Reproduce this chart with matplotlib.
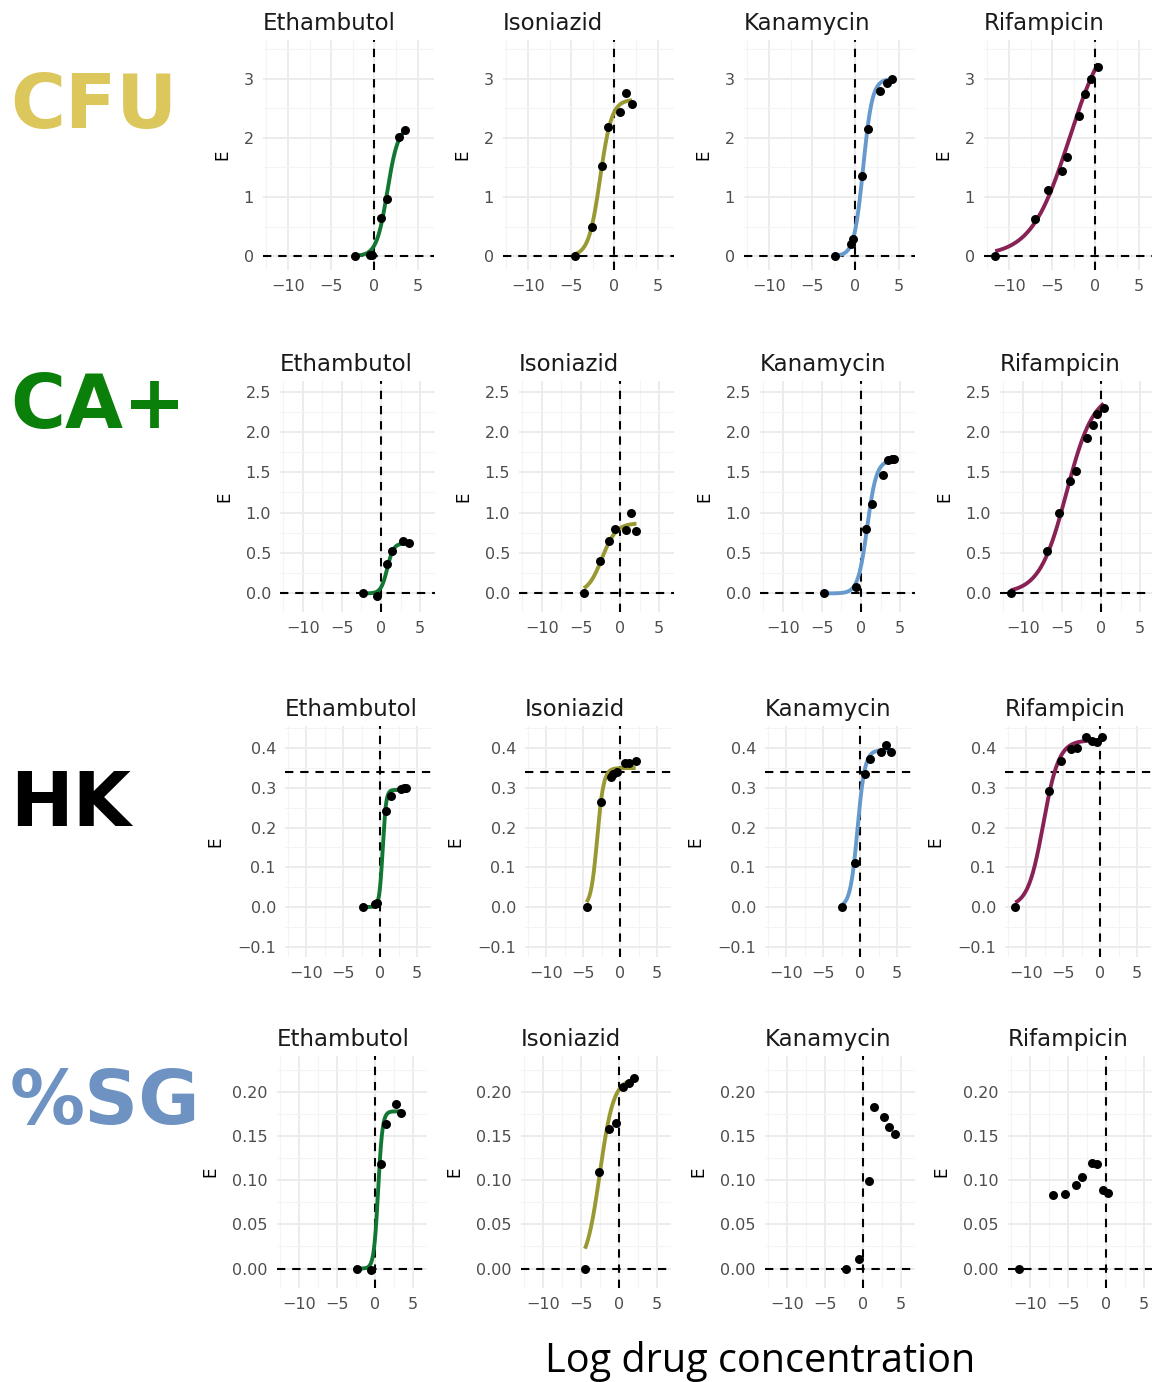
import numpy as np
import matplotlib
matplotlib.use("Agg")
import matplotlib.pyplot as plt
from matplotlib.ticker import FixedLocator, FixedFormatter

# ---------------------------------------------------------------------------
# Data: log drug concentration (x) and effect E (y) for each assay / drug
# ---------------------------------------------------------------------------
drugs = ["Ethambutol", "Isoniazid", "Kanamycin", "Rifampicin"]
assays = ["CFU", "CA+", "HK", "%SG"]

# CFU
cfu_eth_x = [-2.3, -0.5, -0.3, 0.8, 1.5, 2.8, 3.5]
cfu_eth_y = [0.0, 0.01, 0.02, 0.65, 0.96, 2.02, 2.13]
cfu_iso_x = [-4.6, -2.6, -1.4, -0.8, 0.7, 1.35, 2.05]
cfu_iso_y = [0.0, 0.49, 1.53, 2.18, 2.44, 2.77, 2.58]
cfu_kan_x = [-2.4, -0.5, -0.3, 0.8, 1.45, 2.9, 3.6, 4.2]
cfu_kan_y = [0.0, 0.2, 0.28, 1.36, 2.16, 2.79, 2.93, 3.0]
cfu_rif_x = [-11.6, -6.95, -5.45, -3.9, -3.25, -1.9, -1.2, -0.5, 0.3]
cfu_rif_y = [0.0, 0.63, 1.12, 1.44, 1.68, 2.37, 2.75, 3.0, 3.2]

# CA+
ca_eth_x = [-2.3, -0.5, 0.8, 1.45, 2.8, 3.6]
ca_eth_y = [0.0, -0.03, 0.37, 0.53, 0.65, 0.63]
ca_iso_x = [-4.6, -2.6, -1.35, -0.7, 0.75, 1.4, 2.1]
ca_iso_y = [0.0, 0.4, 0.65, 0.8, 0.79, 1.0, 0.77]
ca_kan_x = [-4.7, -0.65, 0.65, 1.35, 2.85, 3.5, 3.9, 4.2]
ca_kan_y = [0.0, 0.08, 0.8, 1.11, 1.47, 1.65, 1.66, 1.67]
ca_rif_x = [-11.5, -6.9, -5.3, -3.9, -3.2, -1.8, -1.05, -0.5, 0.35]
ca_rif_y = [0.0, 0.53, 1.0, 1.39, 1.51, 1.93, 2.08, 2.22, 2.3]

# HK
hk_eth_x = [-2.35, -0.7, -0.4, 0.8, 1.5, 2.85, 3.2, 3.5]
hk_eth_y = [0.0, 0.008, 0.01, 0.243, 0.28, 0.298, 0.3, 0.301]
hk_iso_x = [-4.55, -2.65, -1.25, -0.9, -0.45, 0.6, 1.25, 2.1]
hk_iso_y = [0.0, 0.265, 0.328, 0.335, 0.34, 0.362, 0.362, 0.368]
hk_kan_x = [-2.4, -0.7, 0.6, 1.4, 2.8, 3.5, 4.2]
hk_kan_y = [0.0, 0.112, 0.335, 0.374, 0.391, 0.408, 0.39]
hk_rif_x = [-11.5, -6.95, -5.35, -3.9, -3.2, -1.9, -1.1, -0.4, 0.25]
hk_rif_y = [0.0, 0.291, 0.369, 0.397, 0.40, 0.429, 0.419, 0.416, 0.429]

# %SG
sg_eth_x = [-2.3, -0.5, 0.8, 1.5, 2.8, 3.5]
sg_eth_y = [0.0, -0.002, 0.118, 0.164, 0.186, 0.176]
sg_iso_x = [-4.45, -2.6, -1.3, -0.4, 0.55, 1.3, 2.05]
sg_iso_y = [0.0, 0.109, 0.158, 0.165, 0.205, 0.21, 0.216]
sg_kan_x = [-2.2, -0.45, 0.85, 1.5, 2.8, 3.5, 4.2]
sg_kan_y = [0.0, 0.0104, 0.099, 0.183, 0.171, 0.16, 0.152]
sg_rif_x = [-11.5, -6.9, -5.35, -3.9, -3.15, -1.85, -1.1, -0.35, 0.3]
sg_rif_y = [0.0, 0.083, 0.084, 0.095, 0.104, 0.12, 0.118, 0.089, 0.086]

# Fitted Emax (logistic in log concentration) parameters per assay:
# [Ethambutol, Isoniazid, Kanamycin, Rifampicin]; None = no fit drawn
cfu_fit_top = [2.2, 2.65, 3.0, 4.0]
cfu_fit_mid = [1.5, -1.65, 0.9, -3.0]
cfu_fit_slope = [1.6, 1.5, 1.9, 0.45]

ca_fit_top = [0.62, 0.87, 1.65, 2.5]
ca_fit_mid = [0.8, -2.3, 0.8, -4.4]
ca_fit_slope = [2.5, 1.1, 1.7, 0.58]

hk_fit_top = [0.295, 0.35, 0.395, 0.42]
hk_fit_mid = [0.35, -3.1, -0.35, -7.7]
hk_fit_slope = [4.4, 2.3, 2.0, 0.95]

sg_fit_top = [0.178, 0.215, None, None]
sg_fit_mid = [0.45, -2.5, None, None]
sg_fit_slope = [3.5, 1.1, None, None]

# Reference lines
vline_x = 0.0
hline_y = [0.0, 0.0, 0.34, 0.0]

# Axis ticks per assay row
x_ticks = [-10, -5, 0, 5]
x_minor = [-12.5, -7.5, -2.5, 2.5]
y_ticks = [[0, 1, 2, 3],
           [0.0, 0.5, 1.0, 1.5, 2.0, 2.5],
           [-0.1, 0.0, 0.1, 0.2, 0.3, 0.4],
           [0.0, 0.05, 0.10, 0.15, 0.20]]
y_ticklabels = [["0", "1", "2", "3"],
                ["0.0", "0.5", "1.0", "1.5", "2.0", "2.5"],
                ["\u22120.1", "0.0", "0.1", "0.2", "0.3", "0.4"],
                ["0.00", "0.05", "0.10", "0.15", "0.20"]]
y_minor = [[0.5, 1.5, 2.5, 3.5],
           [0.25, 0.75, 1.25, 1.75, 2.25],
           [-0.05, 0.05, 0.15, 0.25, 0.35, 0.45],
           [0.025, 0.075, 0.125, 0.175, 0.225]]
ylims = [(-0.237, 3.66), (-0.23, 2.63), (-0.126, 0.456), (-0.022, 0.2406)]
xlim = (-12.9, 6.9)

drug_colors = ["#117733", "#999933", "#6699CC", "#882255"]
assay_colors = ["#DCC75C", "#0A800A", "#000000", "#6E93C3"]

points = [
    [(cfu_eth_x, cfu_eth_y), (cfu_iso_x, cfu_iso_y), (cfu_kan_x, cfu_kan_y), (cfu_rif_x, cfu_rif_y)],
    [(ca_eth_x, ca_eth_y), (ca_iso_x, ca_iso_y), (ca_kan_x, ca_kan_y), (ca_rif_x, ca_rif_y)],
    [(hk_eth_x, hk_eth_y), (hk_iso_x, hk_iso_y), (hk_kan_x, hk_kan_y), (hk_rif_x, hk_rif_y)],
    [(sg_eth_x, sg_eth_y), (sg_iso_x, sg_iso_y), (sg_kan_x, sg_kan_y), (sg_rif_x, sg_rif_y)],
]
fits = [
    (cfu_fit_top, cfu_fit_mid, cfu_fit_slope),
    (ca_fit_top, ca_fit_mid, ca_fit_slope),
    (hk_fit_top, hk_fit_mid, hk_fit_slope),
    (sg_fit_top, sg_fit_mid, sg_fit_slope),
]

# ---------------------------------------------------------------------------
# Layout (pixels on a 1152 x 1382 canvas)
# ---------------------------------------------------------------------------
W, H = 1152, 1382
row_top = [40, 381, 726, 1056]
row_bottom = [270, 612, 957, 1288]
row_lefts = [[263, 503, 744, 984],
             [280, 519, 760, 1000],
             [285, 525, 765, 1005],
             [277, 521, 765, 1008]]
row_width = [171, 155, 146, 150]
label_baseline = [128, 428, 826, 1124]

fig = plt.figure(figsize=(W / 100, H / 100), dpi=100)
fig.patch.set_facecolor("white")


def emax_curve(x, top, mid, slope):
    return top / (1.0 + np.exp(-slope * (x - mid)))


for r in range(4):
    top_list, mid_list, slope_list = fits[r]
    for c in range(4):
        left = row_lefts[r][c]
        w = row_width[r]
        ax = fig.add_axes([left / W, 1 - row_bottom[r] / H, w / W,
                           (row_bottom[r] - row_top[r]) / H])
        ax.set_xlim(*xlim)
        ax.set_ylim(*ylims[r])
        for s in ax.spines.values():
            s.set_visible(False)
        ax.set_facecolor("white")

        ax.xaxis.set_major_locator(FixedLocator(x_ticks))
        ax.xaxis.set_major_formatter(FixedFormatter(
            [f"{t}".replace("-", "\u2212") for t in x_ticks]))
        ax.xaxis.set_minor_locator(FixedLocator(x_minor))
        ax.yaxis.set_major_locator(FixedLocator(y_ticks[r]))
        ax.yaxis.set_major_formatter(FixedFormatter(y_ticklabels[r]))
        ax.yaxis.set_minor_locator(FixedLocator(y_minor[r]))
        ax.tick_params(which="both", length=0)
        ax.tick_params(axis="x", pad=6.5, labelsize=11.5, labelcolor="#4D4D4D")
        ax.tick_params(axis="y", pad=6.5, labelsize=11.5, labelcolor="#4D4D4D")
        ax.grid(True, which="major", color="#EBEBEB", linewidth=1.3)
        ax.grid(True, which="minor", color="#F4F4F4", linewidth=0.8)
        ax.set_axisbelow(True)

        # reference lines
        ax.axvline(vline_x, color="black", linewidth=1.5,
                   linestyle=(0, (4, 3.3)), zorder=2)
        ax.axhline(hline_y[r], color="black", linewidth=1.5,
                   linestyle=(0, (4, 3.3)), zorder=2)

        xs, ys = points[r][c]
        if top_list[c] is not None:
            xx = np.linspace(min(xs), max(xs), 300)
            ax.plot(xx, emax_curve(xx, top_list[c], mid_list[c], slope_list[c]),
                    color=drug_colors[c], linewidth=2.8, zorder=3,
                    solid_capstyle="butt")
        ax.scatter(xs, ys, s=42, color="black", zorder=4, linewidths=0)

        ax.set_title(drugs[c], loc="left", fontsize=16.5, color="#1A1A1A",
                     pad=7)
        ax.set_ylabel("E", fontsize=12, color="black", labelpad=9)

    fig.text(10 / W, 1 - label_baseline[r] / H, assays[r],
             fontsize=54, fontweight="bold", color=assay_colors[r],
             ha="left", va="baseline", family="DejaVu Sans")

fig.text(760 / W, 1 - 1372 / H, "Log drug concentration",
         fontsize=28.5, family=["Open Sans", "DejaVu Sans"],
         ha="center", va="baseline", color="black")

fig.savefig("out.png", dpi=100, facecolor="white")
